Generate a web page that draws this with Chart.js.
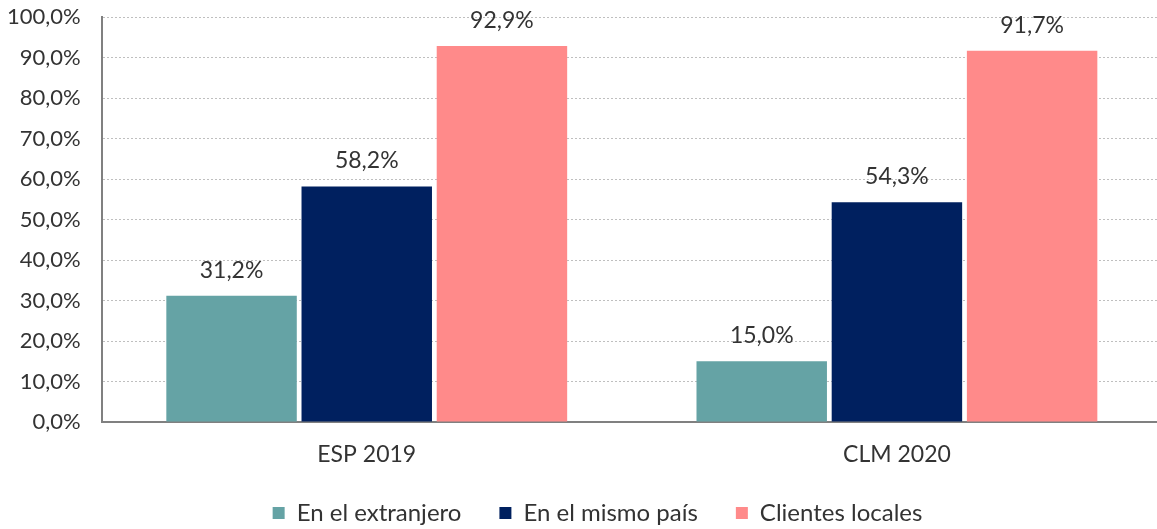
<!DOCTYPE html>
<html lang="es">
<head>
<meta charset="utf-8">
<title>Canales de venta</title>
<script src="https://cdn.jsdelivr.net/npm/chart.js@4.4.1/dist/chart.umd.min.js"></script>
<style>
  html, body { margin: 0; padding: 0; background: #fff; overflow: hidden; }
  #wrap { position: relative; width: 1165px; height: 529px; }
</style>
</head>
<body>
<div id="wrap"><canvas id="ventasChart"></canvas></div>
<script>
// Datos del gráfico
const categorias = ["ESP 2019", "CLM 2020"];
const extranjero = [31.2, 15.0];
const mismoPais = [58.2, 54.3];
const clientesLocales = [92.9, 91.7];
const ticksY = [0, 10, 20, 30, 40, 50, 60, 70, 80, 90, 100];

const fuente = "Lato, 'Open Sans', sans-serif";
const colorTexto = "#333333";
const altoLeyenda = 66;
const desplazLeyenda = 15;

// Formato español: 31,2%
function formatoPct(v) {
  return v.toFixed(1).replace(".", ",") + "%";
}

// Etiquetas de valor encima de cada barra
const etiquetasBarras = {
  id: "etiquetasBarras",
  afterDatasetsDraw(chart) {
    const ctx = chart.ctx;
    ctx.save();
    ctx.font = "23px " + fuente;
    ctx.fillStyle = colorTexto;
    ctx.textAlign = "center";
    ctx.textBaseline = "alphabetic";
    chart.data.datasets.forEach((ds, i) => {
      chart.getDatasetMeta(i).data.forEach((bar, j) => {
        ctx.fillText(formatoPct(ds.data[j]), bar.x, bar.y - 18);
      });
    });
    ctx.restore();
  },
};

// La leyenda usa mucho espacio horizontal entre elementos, pero su alto se fija aparte
const ajusteLeyenda = {
  id: "ajusteLeyenda",
  afterInit(chart) {
    const leyenda = chart.legend;
    const fitOriginal = leyenda.fit.bind(leyenda);
    leyenda.fit = function () {
      fitOriginal();
      this.height = altoLeyenda;
    };
  },
  afterLayout(chart) {
    chart.legend.left += desplazLeyenda;
    chart.legend.right += desplazLeyenda;
  },
};

function crearGrafico() {
  const ctx = document.getElementById("ventasChart").getContext("2d");

  new Chart(ctx, {
    type: "bar",
    data: {
      labels: categorias,
      datasets: [
        { label: "En el extranjero", data: extranjero, backgroundColor: "#65A3A5" },
        { label: "En el mismo país", data: mismoPais, backgroundColor: "#00205F" },
        { label: "Clientes locales", data: clientesLocales, backgroundColor: "#FF8A8A" },
      ],
    },
    options: {
      responsive: true,
      maintainAspectRatio: false,
      animation: false,
      datasets: {
        bar: { categoryPercentage: 0.765, barPercentage: 0.965 },
      },
      layout: { autoPadding: false, padding: { top: 0, left: 3, right: 3, bottom: 0 } },
      plugins: {
        tooltip: { enabled: false },
        legend: {
          position: "bottom",
          labels: {
            boxWidth: 12,
            boxHeight: 12,
            padding: 38,
            color: colorTexto,
            font: { family: fuente, size: 24 },
          },
        },
      },
      scales: {
        x: {
          grid: {
            drawOnChartArea: false,
            tickLength: 24,
            tickColor: "rgba(0,0,0,0)",
          },
          border: { color: "#808080", width: 2 },
          ticks: {
            color: colorTexto,
            padding: 0,
            font: { family: fuente, size: 23, lineHeight: 0.74 },
          },
        },
        y: {
          min: 0,
          max: 100,
          afterBuildTicks(axis) {
            axis.ticks = ticksY.map((v) => ({ value: v }));
          },
          grid: {
            color: "#BFBFBF",
            tickLength: 17,
            tickColor: "rgba(0,0,0,0)",
          },
          border: { color: "#808080", width: 2, dash: [2, 2] },
          ticks: {
            color: colorTexto,
            padding: 4,
            font: { family: fuente, size: 22 },
            callback: (v) => formatoPct(v),
          },
        },
      },
    },
    plugins: [etiquetasBarras, ajusteLeyenda],
  });
}

// Esperar a que la fuente esté lista para medir bien los textos
document.fonts.load("22px Lato").then(crearGrafico, crearGrafico);
</script>
</body>
</html>
